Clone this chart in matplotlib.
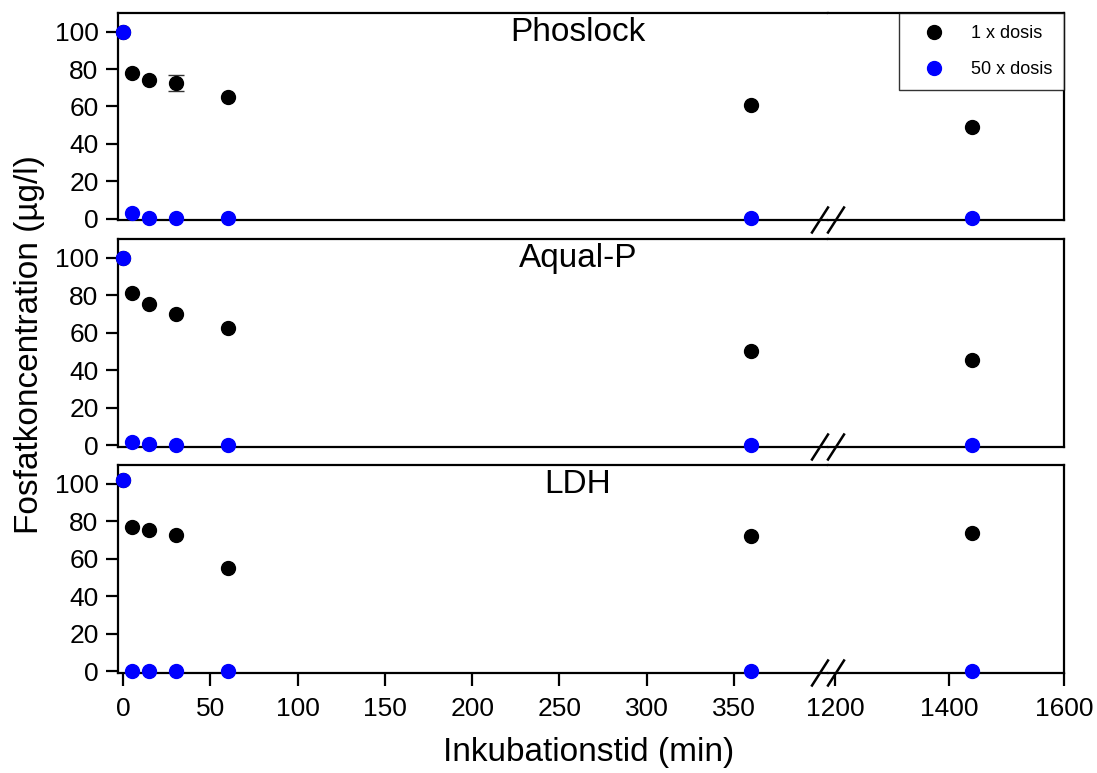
import matplotlib
matplotlib.use("Agg")
import matplotlib.pyplot as plt
from matplotlib.lines import Line2D

plt.rcParams['font.family'] = ['Liberation Sans', 'DejaVu Sans']

# data
time_min = [0, 5, 15, 30, 60, 360, 1440]
panels = ["Phoslock", "Aqual-P", "LDH"]

dose1 = {
    "Phoslock": [100, 77.7, 74.2, 72.5, 65.0, 60.6, 49.0],
    "Aqual-P": [100, 81.4, 75.6, 70.2, 62.8, 50.3, 45.6],
    "LDH": [102, 77.2, 75.3, 72.8, 55.3, 72.3, 74.0],
}
dose1_err = {
    "Phoslock": [0, 0, 0, 4.2, 0, 0, 0],
    "Aqual-P": [0, 0, 0, 0, 0, 0, 0],
    "LDH": [0, 0, 0, 0, 0, 0, 0],
}
dose50 = {
    "Phoslock": [100, 3.2, 0.3, 0.2, 0.2, 0.2, 0.2],
    "Aqual-P": [100, 1.8, 0.6, 0.1, 0.1, 0.1, 0.1],
    "LDH": [102, 0.2, 0.2, 0.2, 0.2, 0.2, 0.2],
}
legend_labels = ["1 x dosis", "50 x dosis"]
left_ticks = [0, 50, 100, 150, 200, 250, 300, 350]
right_ticks = [1200, 1400, 1600]
y_ticks = [0, 20, 40, 60, 80, 100]

W, H = 1097, 773
fig = plt.figure(figsize=(W / 100, H / 100), dpi=100)

# panel rows in pixels (top, bottom)
rows = [(13, 220), (239, 447), (465, 673)]
x_left, x_break, x_right = 118, 828, 1064


def pick(vals, idx):
    return [vals[k] for k in idx]


lw = 1.6
for i, (name, (top, bot)) in enumerate(zip(panels, rows)):
    b = 1 - bot / H
    h = (bot - top) / H
    axl = fig.add_axes([x_left / W, b, (x_break - x_left) / W, h])
    axr = fig.add_axes([x_break / W, b, (x_right - x_break) / W, h])
    axl.set_xlim(-3, 404)
    axr.set_xlim(1188, 1600)
    for ax in (axl, axr):
        ax.set_ylim(-0.8, 110)
        for s in ax.spines.values():
            s.set_linewidth(lw)
        lo, hi = ax.get_xlim()
        idx = [k for k, t in enumerate(time_min) if lo <= t <= hi]
        eidx = [k for k in idx if dose1_err[name][k] > 0]
        if eidx:
            ax.errorbar(pick(time_min, eidx), pick(dose1[name], eidx),
                        yerr=pick(dose1_err[name], eidx), fmt='none',
                        ecolor='#333333', elinewidth=1, capsize=6, capthick=1,
                        clip_on=False, zorder=2)
        ax.plot(pick(time_min, idx), pick(dose1[name], idx), 'o', color='black',
                markersize=10, clip_on=False, zorder=3)
        ax.plot(pick(time_min, idx), pick(dose50[name], idx), 'o', color='#0000ff',
                markersize=10, clip_on=False, zorder=4)
    axl.spines['right'].set_visible(False)
    axr.spines['left'].set_visible(False)
    axr.tick_params(left=False, labelleft=False)
    axl.set_yticks(y_ticks)
    axl.tick_params(axis='y', direction='out', length=9, width=lw, labelsize=19, pad=5)
    if i == 2:
        axl.set_xticks(left_ticks)
        axr.set_xticks(right_ticks)
        for ax in (axl, axr):
            ax.tick_params(axis='x', direction='out', length=9, width=lw, labelsize=19, pad=8)
    else:
        for ax in (axl, axr):
            ax.tick_params(axis='x', bottom=False, labelbottom=False)

    axl.text(0.648, 0.905, name, transform=axl.transAxes, fontsize=24,
             ha='center', va='center')

    # break marks on the bottom axis line
    for dx in (-8, 8):
        xc = x_break + dx
        fig.add_artist(Line2D([(xc - 8) / W, (xc + 8) / W],
                              [1 - (bot + 12.5) / H, 1 - (bot - 12.5) / H],
                              color='black', lw=1.8))

    if i == 0:
        handles = [Line2D([], [], marker='o', ls='none', color='black', markersize=10),
                   Line2D([], [], marker='o', ls='none', color='#0000ff', markersize=10)]
        leg = axr.legend(handles, legend_labels, loc='upper right', fontsize=13,
                         frameon=True, fancybox=False, borderaxespad=0,
                         handletextpad=0.7, handlelength=2.6,
                         labelspacing=1.05, borderpad=0.67)
        leg.get_frame().set_edgecolor('black')
        leg.get_frame().set_linewidth(1.0)

fig.text(30 / W, 1 - 345 / H, "Fosfatkoncentration (µg/l)", rotation=90,
         fontsize=24, ha='center', va='center')
fig.text(589 / W, 1 - 752 / H, "Inkubationstid (min)", fontsize=24,
         ha='center', va='center')

fig.savefig("out.png", dpi=100)
